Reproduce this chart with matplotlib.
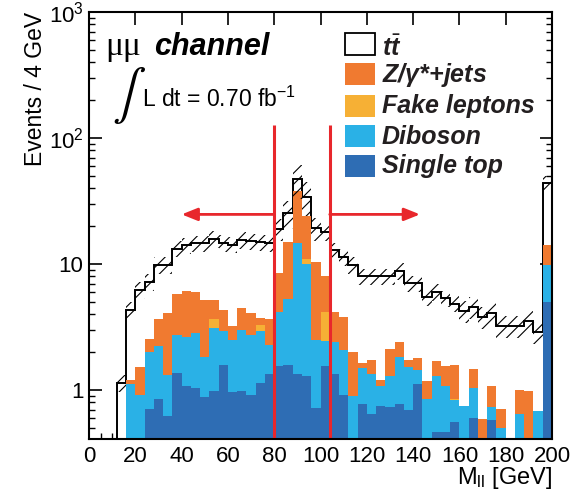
import numpy as np
import matplotlib
matplotlib.use("Agg")
import matplotlib.pyplot as plt
from matplotlib.patches import Rectangle
from matplotlib.ticker import MultipleLocator, FixedLocator, NullFormatter, LogLocator

# ---------------- data (events per 4 GeV bin) ----------------
bin_low = [12, 16, 20, 24, 28, 32, 36, 40, 44, 48, 52, 56, 60, 64, 68, 72, 76,
           80, 84, 88, 92, 96, 100, 104, 108, 112, 116, 120, 124, 128, 132, 136,
           140, 144, 148, 152, 156, 160, 164, 168, 172, 176, 180, 184, 188, 192, 196]
bin_width = 4

single_top = [0, 0, 0, 0.71, 0.85, 0.62, 1.36, 1.08, 1.04, 0.88, 0.98, 1.58, 0.96, 0.98, 0.91, 1.15, 1.34,
              1.55, 1.57, 1.34, 1.29, 0.72, 1.55, 1.34, 0.92, 0, 0.78, 0.65, 0.75, 0.73, 0.77, 0.70,
              1.12, 0, 0.47, 0.47, 0.56, 0, 0.60, 0, 0.585, 0, 0, 0, 0, 0, 5.02]
diboson = [0, 1.12, 0.91, 1.30, 1.38, 0.69, 1.37, 1.55, 1.78, 0.94, 2.12, 1.36, 1.55, 2.03, 1.81, 1.79, 0.95,
           2.63, 3.68, 13.46, 8.71, 1.80, 0.90, 1.08, 1.16, 0.90, 0.71, 0.69, 0.33, 0.56, 1.05, 0.83,
           0.33, 0.85, 0.82, 0.61, 0.28, 0.75, 0.45, 0, 0.145, 0.50, 0, 0.645, 0, 0.68, 4.81]
fake_leptons = [0, 0, 0, 0, 0, 0, 0, 0, 0, 0, 0.54, 0, 0, 0, 0, 0.34, 0,
                0, 0, 0, 0.90, 0, 1.73, 0, 0, 0, 0, 0, 0, 0, 0, 0,
                0, 0, 0.01, 0, 0.01, 0, 0, 0, 0, 0, 0, 0, 0, 0.005, 0]
z_jets = [0, 0.08, 0.62, 0.52, 1.41, 2.75, 3.05, 3.47, 3.23, 3.36, 1.54, 1.37, 0.71, 1.51, 1.40, 0.47, 1.36,
          4.36, 9.75, 23.2, 13.1, 7.88, 3.84, 1.72, 1.73, 1.11, 0.14, 0.41, 0.12, 0.85, 0.57, 0.22,
          0.34, 0.33, 0.40, 0.47, 0.73, 0, 0.42, 0.59, 0.35, 0.21, 0, 0.355, 0.99, 0.005, 4.37]
ttbar = [1.14, 3.12, 4.70, 4.71, 6.19, 5.77, 7.52, 8.00, 8.55, 9.42, 10.72, 10.49, 11.08, 11.08, 11.08, 11.15, 11.05,
         10.56, 10.40, 9.00, 10.20, 8.80, 9.98, 8.76, 7.59, 7.82, 6.37, 6.25, 6.80, 5.86, 6.44, 5.28,
         5.24, 4.32, 4.33, 3.79, 3.29, 3.51, 3.11, 3.23, 2.98, 2.51, 3.22, 2.22, 2.56, 2.21, 29.5]
rel_uncert = [0.15, 0.15, 0.15, 0.15, 0.15, 0.15, 0.15, 0.15, 0.15, 0.15, 0.15, 0.15, 0.15, 0.15, 0.15, 0.15, 0.15,
              0.20, 0.25, 0.30, 0.30, 0.20, 0.15, 0.15, 0.15, 0.15, 0.15, 0.15, 0.15, 0.15, 0.15, 0.15,
              0.15, 0.15, 0.15, 0.15, 0.15, 0.20, 0.20, 0.20, 0.20, 0.20, 0.20, 0.20, 0.20, 0.20, 0.15]

cut_low, cut_high = 80, 104
arrow_end_low, arrow_end_high = 40, 143
arrow_level = 24.8
cut_line_top = 128

labels = [r"$t\bar{t}$", r"Z/$\gamma$*+jets", "Fake leptons", "Diboson", "Single top"]
colors = ["white", "#F07A30", "#F6B035", "#2AB1E6", "#2E6DB4"]
red = "#E8272C"

# ---------------- style ----------------
plt.rcParams["font.family"] = ["Liberation Sans", "DejaVu Sans"]
plt.rcParams["mathtext.fontset"] = "custom"
plt.rcParams["mathtext.rm"] = "Liberation Sans"
plt.rcParams["mathtext.it"] = "Liberation Sans:italic:bold"
plt.rcParams["mathtext.bf"] = "Liberation Sans:bold"
plt.rcParams["hatch.linewidth"] = 0.8

W, H = 575, 492
fig = plt.figure(figsize=(W / 100, H / 100), dpi=100)
ax = fig.add_axes([89 / W, 53 / H, 463 / W, 427 / H])
ax.set_yscale("log")

edges = np.append(np.array(bin_low, float), bin_low[-1] + bin_width)
comps = np.array([single_top, diboson, fake_leptons, z_jets, ttbar])
cum = np.cumsum(comps, axis=0)
total = cum[-1]
base = 1e-3

# ttbar (white, black outline) = total stack
ax.stairs(total, edges, baseline=base, fill=True, facecolor="white",
          edgecolor="black", linewidth=1.4, zorder=2)
# remaining stack levels, top to bottom
for level, col in zip(cum[3::-1], colors[1:]):
    vals = np.where(level > 0, level, base)
    ax.stairs(vals, edges, baseline=base, fill=True, facecolor=col,
              edgecolor="none", linewidth=0, zorder=3)

# uncertainty band
rel = np.array(rel_uncert)
up = np.append(total * (1 + rel), total[-1] * (1 + rel[-1]))
dn = np.append(total * (1 - rel), total[-1] * (1 - rel[-1]))
ax.fill_between(edges, dn, up, step="post", facecolor="none", edgecolor="black",
                hatch="///", linewidth=0, zorder=4)

ax.set_xlim(0, 200)
ax.set_ylim(0.41, 1000)

# cut lines and arrows
for c in (cut_low, cut_high):
    ax.vlines(c, 0.41, cut_line_top, color=red, linewidth=2.2, zorder=5)
for start, end in ((cut_low, arrow_end_low), (cut_high, arrow_end_high)):
    ax.annotate("", xy=(end, arrow_level), xytext=(start, arrow_level),
                arrowprops=dict(arrowstyle="-|>,head_length=0.95,head_width=0.38",
                                color=red, lw=2.0, shrinkA=0, shrinkB=0,
                                mutation_scale=10), zorder=5)

# axes / ticks
for s in ax.spines.values():
    s.set_linewidth(1.5)
    s.set_zorder(6)
ax.xaxis.set_major_locator(MultipleLocator(20))
ax.xaxis.set_minor_locator(MultipleLocator(5))
ax.yaxis.set_major_locator(FixedLocator([1, 10, 100, 1000]))
ax.yaxis.set_minor_locator(LogLocator(base=10, subs=np.arange(2, 10)))
ax.yaxis.set_minor_formatter(NullFormatter())
ax.set_yticklabels(["1", "10", r"$10^{2}$", r"$10^{3}$"])
ax.tick_params(which="both", direction="in", top=True, right=True, labelsize=16)
ax.tick_params(which="major", length=9, width=1.2)
ax.tick_params(which="minor", length=4.5, width=1.0)
ax.tick_params(axis="x", which="minor", top=False)
ax.tick_params(axis="x", pad=5)
ax.tick_params(axis="y", pad=4)

ax.set_ylabel("Events / 4 GeV", fontsize=16.5, loc="top")
ax.yaxis.set_label_coords((47 - 89) / 463, 1.0)
ax.set_xlabel(r"M$_{\mathregular{ll}}$ [GeV]", fontsize=17, loc="right")
ax.xaxis.set_label_coords(1.0, (439 - 465) / 427)


def fx(px):
    return px / W


def fy(py):
    return 1 - py / H


# channel / luminosity text
fig.text(fx(105), fy(55), "μμ", fontsize=24, family="Liberation Serif", va="baseline")
fig.text(fx(154), fy(55), "channel", fontsize=22, weight="bold", style="italic", va="baseline")
fig.text(fx(112), fy(96), r"$\int$", fontsize=36, math_fontfamily="stix", va="center")
fig.text(fx(142), fy(107), r"L dt = 0.70 fb$^{\mathregular{-1}}$", fontsize=16.5, va="baseline")

# legend
box_tops = [33, 63, 95, 125, 155]
baselines = [56, 82, 113, 144, 173]
for lab, col, bt, bl in zip(labels, colors, box_tops, baselines):
    ec = "black" if col == "white" else col
    fig.add_artist(Rectangle((fx(345), fy(bt + 22)), 30 / W, 22 / H,
                             transform=fig.transFigure, facecolor=col, edgecolor=ec,
                             linewidth=1.3 if col == "white" else 0))
    fig.text(fx(382), fy(bl), lab, fontsize=18, weight="bold", style="italic",
             va="baseline", color="#231F20")

fig.savefig("out.png", dpi=100)
